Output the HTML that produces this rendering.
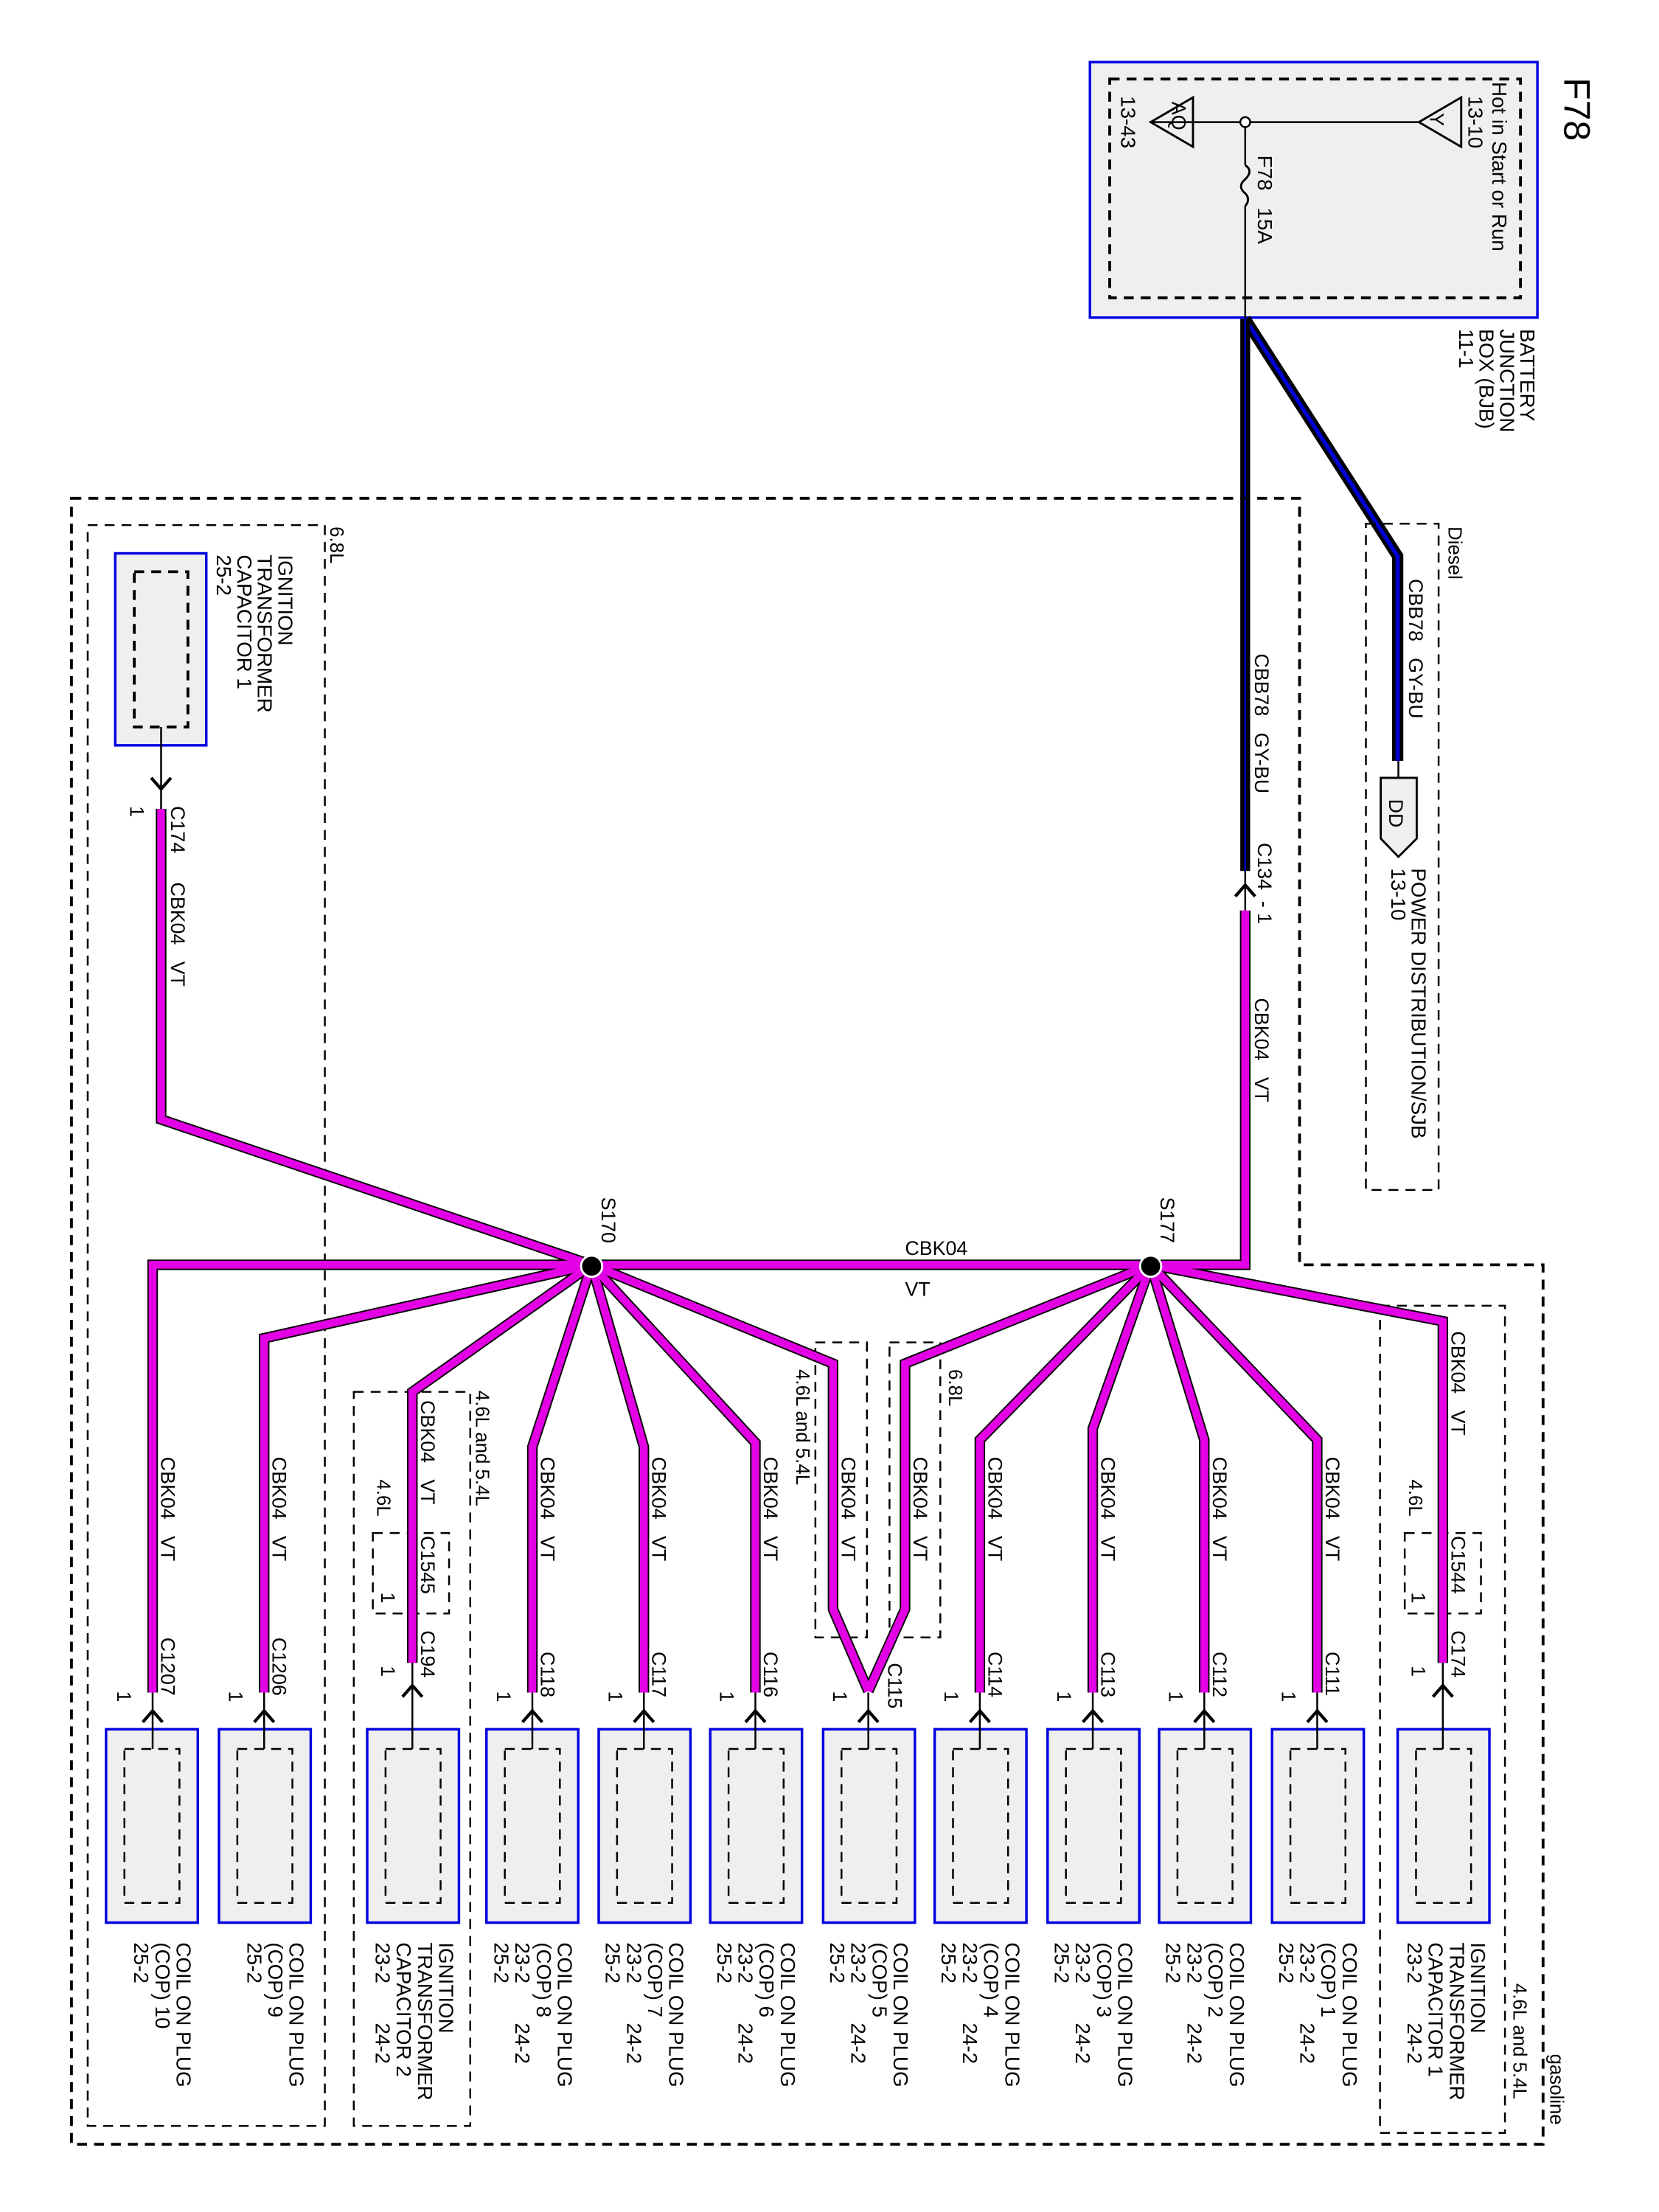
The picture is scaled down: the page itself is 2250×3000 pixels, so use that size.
<!DOCTYPE html>
<html><head><meta charset="utf-8"><style>
html,body{margin:0;padding:0;background:#fff;}
svg{display:block;}
text{font-family:"Liberation Sans",Arial,sans-serif;fill:#000;white-space:pre;}
.w1{fill:none;stroke:#000;stroke-width:7.5;stroke-linejoin:miter;}
.w2{fill:none;stroke:#e400e4;stroke-width:5.5;stroke-linejoin:miter;}
.d{fill:none;stroke:#000;stroke-width:1.3;stroke-dasharray:7,5;}
.db{fill:none;stroke:#000;stroke-width:2;stroke-dasharray:7,5;}
.box{fill:#efefef;stroke:#0000e0;stroke-width:1.8;}
.ln{fill:none;stroke:#000;stroke-width:1.3;}
.ar{fill:none;stroke:#000;stroke-width:2.2;}
</style></head><body>
<svg width="2250" height="3000" viewBox="0 0 1175 1567" xmlns="http://www.w3.org/2000/svg" xml:space="preserve">
<rect x="0" y="0" width="1175" height="1567" fill="#fff"/>

<text font-size="26" transform="translate(1108,55) rotate(90)">F78</text>

<rect class="box" x="772" y="44" width="317" height="181"/>
<rect class="db" x="786" y="56" width="291" height="155"/>
<line class="ln" x1="815" y1="86.5" x2="1005" y2="86.5"/>
<polygon points="815,86.5 845,69 845,104" fill="none" stroke="#000" stroke-width="1.5"/>
<polygon points="1005,86.5 1035,69 1035,104" fill="none" stroke="#000" stroke-width="1.5"/>
<circle cx="882" cy="86.5" r="3.5" fill="#fff" stroke="#000" stroke-width="1.3"/>
<line class="ln" x1="882" y1="90" x2="882" y2="117"/>
<path d="M882,117 q6,4 0,10 q-6,5 0,10 q4,4 0,9" fill="none" stroke="#000" stroke-width="1.5"/>
<line class="ln" x1="882" y1="146" x2="882" y2="226"/>
<text font-size="14" transform="translate(830,72) rotate(90)">AQ</text>
<text font-size="14" transform="translate(1013,80) rotate(90)">Y</text>
<text font-size="14.5" transform="translate(794,68) rotate(90)">13-43</text>
<text font-size="14.5" transform="translate(1040,68) rotate(90)">13-10</text>
<text font-size="14.5" transform="translate(1057,58) rotate(90)">Hot in Start or Run</text>
<text font-size="14.5" transform="translate(891,110) rotate(90)">F78   15A</text>
<text font-size="14.5" transform="translate(1077,233) rotate(90)"><tspan x="0" dy="0">BATTERY</tspan><tspan x="0" dy="14.5">JUNCTION</tspan><tspan x="0" dy="14.5">BOX (BJB)</tspan><tspan x="0" dy="14.5">11-1</tspan></text>

<polyline points="882,226 990,394 990,539" fill="none" stroke="#000" stroke-width="8"/>
<polyline points="882,226 990,394 990,539" fill="none" stroke="#0000d0" stroke-width="3"/>
<line class="ln" x1="990.5" y1="539" x2="990.5" y2="551"/>
<polygon points="978,551 1003.5,551 1003.5,594 990.5,607 978,594" fill="#efefef" stroke="#000" stroke-width="1.5"/>
<text font-size="14" transform="translate(984,566) rotate(90)">DD</text>
<rect class="d" x="967.5" y="371" width="51.5" height="472"/>
<text font-size="13.5" transform="translate(1026,373) rotate(90)">Diesel</text>
<text font-size="14" transform="translate(998,410) rotate(90)">CBB78   GY-BU</text>
<text font-size="14.5" transform="translate(1000,615) rotate(90)"><tspan x="0" dy="0">POWER DISTRIBUTION/SJB</tspan><tspan x="0" dy="14.5">13-10</tspan></text>

<line x1="882" y1="226" x2="882" y2="617" stroke="#000" stroke-width="7"/>
<line x1="882" y1="226" x2="882" y2="617" stroke="#0000d0" stroke-width="1.2"/>
<line class="ln" x1="882" y1="617" x2="882" y2="645"/>
<polyline class="ar" points="875,635 882,627 889,635"/>
<text font-size="14" transform="translate(889,463) rotate(90)">CBB78   GY-BU</text>
<text font-size="14" transform="translate(891,597) rotate(90)">C134  - 1</text>
<text font-size="14" transform="translate(889,707) rotate(90)">CBK04   VT</text>

<polygon class="db" points="50.5,353 920.5,353 920.5,896 1093,896 1093,1519 50.5,1519"/>
<text font-size="13.5" transform="translate(1098,1455) rotate(90)">gasoline</text>
<rect class="d" x="62" y="372" width="168" height="1134"/>
<text font-size="13.5" transform="translate(234,373) rotate(90)">6.8L</text>
<rect class="d" x="250.5" y="986" width="82.5" height="520"/>
<text font-size="13.5" transform="translate(337,985) rotate(90)">4.6L and 5.4L</text>
<rect class="d" x="264" y="1086" width="54" height="57"/>
<text font-size="13.5" transform="translate(267,1048) rotate(90)">4.6L</text>
<rect class="d" x="577.5" y="951" width="36.5" height="209"/>
<text font-size="13.5" transform="translate(564,970) rotate(90)">4.6L and 5.4L</text>
<rect class="d" x="630" y="951" width="36" height="209"/>
<text font-size="13.5" transform="translate(672,970) rotate(90)">6.8L</text>
<rect class="d" x="977.5" y="925" width="88.5" height="586"/>
<text font-size="13.5" transform="translate(1072,1405) rotate(90)">4.6L and 5.4L</text>
<rect class="d" x="995" y="1086" width="54" height="57"/>
<text font-size="13.5" transform="translate(998,1048) rotate(90)">4.6L</text>

<rect class="box" x="81.5" y="392" width="64.5" height="136"/>
<rect class="db" x="95" y="405" width="38" height="110"/>
<line class="ln" x1="114" y1="515" x2="114" y2="573"/>
<polyline class="ar" points="107,551 114,559 121,551"/>
<text font-size="14.5" transform="translate(197,393) rotate(90)"><tspan x="0" dy="0">IGNITION</tspan><tspan x="0" dy="14.5">TRANSFORMER</tspan><tspan x="0" dy="14.5">CAPACITOR 1</tspan><tspan x="0" dy="14.5">25-2</tspan></text>
<text font-size="14" transform="translate(121,571) rotate(90)">C174</text>
<text font-size="14" transform="translate(92,571) rotate(90)">1</text>
<text font-size="14" transform="translate(121,625) rotate(90)">CBK04   VT</text>

<g>
<polyline class="w1" points="114,573 114,793 419,896"/>
<polyline class="w1" points="882,645 882,896 108,896 108,1199"/>
<polyline class="w1" points="419,896 187,948 187,1199"/>
<polyline class="w1" points="419,896 292,986 292,1178"/>
<polyline class="w1" points="419,896 377,1025 377,1199"/>
<polyline class="w1" points="419,896 456,1025 456,1199"/>
<polyline class="w1" points="419,896 535,1022 535,1199"/>
<polyline class="w1" points="419,896 590,966 590,1140 615,1198"/>
<polyline class="w1" points="815,896 641,966 641,1140 615,1198"/>
<polyline class="w1" points="815,896 694,1020 694,1199"/>
<polyline class="w1" points="815,896 774,1012 774,1199"/>
<polyline class="w1" points="815,896 853,1020 853,1199"/>
<polyline class="w1" points="815,896 933,1020 933,1199"/>
<polyline class="w1" points="815,896 1022,936 1022,1178"/>
<polyline class="w2" points="114,573 114,793 419,896"/>
<polyline class="w2" points="882,645 882,896 108,896 108,1199"/>
<polyline class="w2" points="419,896 187,948 187,1199"/>
<polyline class="w2" points="419,896 292,986 292,1178"/>
<polyline class="w2" points="419,896 377,1025 377,1199"/>
<polyline class="w2" points="419,896 456,1025 456,1199"/>
<polyline class="w2" points="419,896 535,1022 535,1199"/>
<polyline class="w2" points="419,896 590,966 590,1140 615,1198"/>
<polyline class="w2" points="815,896 641,966 641,1140 615,1198"/>
<polyline class="w2" points="815,896 694,1020 694,1199"/>
<polyline class="w2" points="815,896 774,1012 774,1199"/>
<polyline class="w2" points="815,896 853,1020 853,1199"/>
<polyline class="w2" points="815,896 933,1020 933,1199"/>
<polyline class="w2" points="815,896 1022,936 1022,1178"/>
</g>
<circle cx="419" cy="897" r="7.5" fill="#000" stroke="#fff" stroke-width="1.5"/>
<circle cx="815" cy="897" r="7.5" fill="#000" stroke="#fff" stroke-width="1.5"/>
<text font-size="14" transform="translate(426,848) rotate(90)">S170</text>
<text font-size="14" transform="translate(822,848) rotate(90)">S177</text>
<text font-size="14" x="641" y="889">CBK04</text>
<text font-size="14" x="641" y="918">VT</text>

<g font-size="14">
<text transform="translate(114,1032) rotate(90)">CBK04   VT</text>
<text transform="translate(193,1032) rotate(90)">CBK04   VT</text>
<text transform="translate(298,992) rotate(90)">CBK04   VT</text>
<text transform="translate(383,1032) rotate(90)">CBK04   VT</text>
<text transform="translate(462,1032) rotate(90)">CBK04   VT</text>
<text transform="translate(541,1032) rotate(90)">CBK04   VT</text>
<text transform="translate(596,1032) rotate(90)">CBK04   VT</text>
<text transform="translate(647,1032) rotate(90)">CBK04   VT</text>
<text transform="translate(700,1032) rotate(90)">CBK04   VT</text>
<text transform="translate(780,1032) rotate(90)">CBK04   VT</text>
<text transform="translate(859,1032) rotate(90)">CBK04   VT</text>
<text transform="translate(939,1032) rotate(90)">CBK04   VT</text>
<text transform="translate(1028,943) rotate(90)">CBK04   VT</text>
<text transform="translate(298,1088) rotate(90)">C1545</text>
<text transform="translate(270,1128) rotate(90)">1</text>
<text transform="translate(1028,1088) rotate(90)">C1544</text>
<text transform="translate(1000,1128) rotate(90)">1</text>
<text transform="translate(298,1155) rotate(90)">C194</text>
<text transform="translate(270,1180) rotate(90)">1</text>
<text transform="translate(1028,1155) rotate(90)">C174</text>
<text transform="translate(1000,1180) rotate(90)">1</text>
<text transform="translate(114,1160) rotate(90)">C1207</text>
<text transform="translate(193,1160) rotate(90)">C1206</text>
<text transform="translate(383,1170) rotate(90)">C118</text>
<text transform="translate(462,1170) rotate(90)">C117</text>
<text transform="translate(541,1170) rotate(90)">C116</text>
<text transform="translate(629,1178) rotate(90)">C115</text>
<text transform="translate(700,1170) rotate(90)">C114</text>
<text transform="translate(780,1170) rotate(90)">C113</text>
<text transform="translate(859,1170) rotate(90)">C112</text>
<text transform="translate(939,1170) rotate(90)">C111</text>
<text transform="translate(83,1198) rotate(90)">1</text>
<text transform="translate(162,1198) rotate(90)">1</text>
<text transform="translate(352,1198) rotate(90)">1</text>
<text transform="translate(431,1198) rotate(90)">1</text>
<text transform="translate(510,1198) rotate(90)">1</text>
<text transform="translate(590,1198) rotate(90)">1</text>
<text transform="translate(669,1198) rotate(90)">1</text>
<text transform="translate(749,1198) rotate(90)">1</text>
<text transform="translate(828,1198) rotate(90)">1</text>
<text transform="translate(908,1198) rotate(90)">1</text>
</g>

<g>
<rect class="box" x="75" y="1225" width="65" height="137"/><rect class="d" x="88" y="1239" width="39" height="109"/>
<rect class="box" x="155" y="1225" width="65" height="137"/><rect class="d" x="168" y="1239" width="39" height="109"/>
<rect class="box" x="260" y="1225" width="65" height="137"/><rect class="d" x="273" y="1239" width="39" height="109"/>
<rect class="box" x="344.5" y="1225" width="65" height="137"/><rect class="d" x="357.5" y="1239" width="39" height="109"/>
<rect class="box" x="424" y="1225" width="65" height="137"/><rect class="d" x="437" y="1239" width="39" height="109"/>
<rect class="box" x="503" y="1225" width="65" height="137"/><rect class="d" x="516" y="1239" width="39" height="109"/>
<rect class="box" x="583" y="1225" width="65" height="137"/><rect class="d" x="596" y="1239" width="39" height="109"/>
<rect class="box" x="662" y="1225" width="65" height="137"/><rect class="d" x="675" y="1239" width="39" height="109"/>
<rect class="box" x="742" y="1225" width="65" height="137"/><rect class="d" x="755" y="1239" width="39" height="109"/>
<rect class="box" x="821" y="1225" width="65" height="137"/><rect class="d" x="834" y="1239" width="39" height="109"/>
<rect class="box" x="901" y="1225" width="65" height="137"/><rect class="d" x="914" y="1239" width="39" height="109"/>
<rect class="box" x="990" y="1225" width="65" height="137"/><rect class="d" x="1003" y="1239" width="39" height="109"/>
</g>
<g>
<line class="ln" x1="108" y1="1199" x2="108" y2="1239"/><polyline class="ar" points="101,1220 108,1212 115,1220"/>
<line class="ln" x1="187" y1="1199" x2="187" y2="1239"/><polyline class="ar" points="180,1220 187,1212 194,1220"/>
<line class="ln" x1="292" y1="1178" x2="292" y2="1239"/><polyline class="ar" points="285,1202 292,1194 299,1202"/>
<line class="ln" x1="377" y1="1199" x2="377" y2="1239"/><polyline class="ar" points="370,1220 377,1212 384,1220"/>
<line class="ln" x1="456" y1="1199" x2="456" y2="1239"/><polyline class="ar" points="449,1220 456,1212 463,1220"/>
<line class="ln" x1="535" y1="1199" x2="535" y2="1239"/><polyline class="ar" points="528,1220 535,1212 542,1220"/>
<line class="ln" x1="615" y1="1199" x2="615" y2="1239"/><polyline class="ar" points="608,1220 615,1212 622,1220"/>
<line class="ln" x1="694" y1="1199" x2="694" y2="1239"/><polyline class="ar" points="687,1220 694,1212 701,1220"/>
<line class="ln" x1="774" y1="1199" x2="774" y2="1239"/><polyline class="ar" points="767,1220 774,1212 781,1220"/>
<line class="ln" x1="853" y1="1199" x2="853" y2="1239"/><polyline class="ar" points="846,1220 853,1212 860,1220"/>
<line class="ln" x1="933" y1="1199" x2="933" y2="1239"/><polyline class="ar" points="926,1220 933,1212 940,1220"/>
<line class="ln" x1="1022" y1="1178" x2="1022" y2="1239"/><polyline class="ar" points="1015,1202 1022,1194 1029,1202"/>
</g>

<g font-size="14.5">
<text transform="translate(125,1376) rotate(90)"><tspan x="0" dy="0">COIL ON PLUG</tspan><tspan x="0" dy="15">(COP) 10</tspan><tspan x="0" dy="15">25-2</tspan></text>
<text transform="translate(205,1376) rotate(90)"><tspan x="0" dy="0">COIL ON PLUG</tspan><tspan x="0" dy="15">(COP) 9</tspan><tspan x="0" dy="15">25-2</tspan></text>
<text transform="translate(311,1376) rotate(90)"><tspan x="0" dy="0">IGNITION</tspan><tspan x="0" dy="15">TRANSFORMER</tspan><tspan x="0" dy="15">CAPACITOR 2</tspan><tspan x="0" dy="15">23-2</tspan><tspan x="57">24-2</tspan></text>
<text transform="translate(395,1376) rotate(90)"><tspan x="0" dy="0">COIL ON PLUG</tspan><tspan x="0" dy="15">(COP) 8</tspan><tspan x="0" dy="15">23-2</tspan><tspan x="57">24-2</tspan><tspan x="0" dy="15">25-2</tspan></text>
<text transform="translate(474,1376) rotate(90)"><tspan x="0" dy="0">COIL ON PLUG</tspan><tspan x="0" dy="15">(COP) 7</tspan><tspan x="0" dy="15">23-2</tspan><tspan x="57">24-2</tspan><tspan x="0" dy="15">25-2</tspan></text>
<text transform="translate(553,1376) rotate(90)"><tspan x="0" dy="0">COIL ON PLUG</tspan><tspan x="0" dy="15">(COP) 6</tspan><tspan x="0" dy="15">23-2</tspan><tspan x="57">24-2</tspan><tspan x="0" dy="15">25-2</tspan></text>
<text transform="translate(633,1376) rotate(90)"><tspan x="0" dy="0">COIL ON PLUG</tspan><tspan x="0" dy="15">(COP) 5</tspan><tspan x="0" dy="15">23-2</tspan><tspan x="57">24-2</tspan><tspan x="0" dy="15">25-2</tspan></text>
<text transform="translate(712,1376) rotate(90)"><tspan x="0" dy="0">COIL ON PLUG</tspan><tspan x="0" dy="15">(COP) 4</tspan><tspan x="0" dy="15">23-2</tspan><tspan x="57">24-2</tspan><tspan x="0" dy="15">25-2</tspan></text>
<text transform="translate(792,1376) rotate(90)"><tspan x="0" dy="0">COIL ON PLUG</tspan><tspan x="0" dy="15">(COP) 3</tspan><tspan x="0" dy="15">23-2</tspan><tspan x="57">24-2</tspan><tspan x="0" dy="15">25-2</tspan></text>
<text transform="translate(871,1376) rotate(90)"><tspan x="0" dy="0">COIL ON PLUG</tspan><tspan x="0" dy="15">(COP) 2</tspan><tspan x="0" dy="15">23-2</tspan><tspan x="57">24-2</tspan><tspan x="0" dy="15">25-2</tspan></text>
<text transform="translate(951,1376) rotate(90)"><tspan x="0" dy="0">COIL ON PLUG</tspan><tspan x="0" dy="15">(COP) 1</tspan><tspan x="0" dy="15">23-2</tspan><tspan x="57">24-2</tspan><tspan x="0" dy="15">25-2</tspan></text>
<text transform="translate(1042,1376) rotate(90)"><tspan x="0" dy="0">IGNITION</tspan><tspan x="0" dy="15">TRANSFORMER</tspan><tspan x="0" dy="15">CAPACITOR 1</tspan><tspan x="0" dy="15">23-2</tspan><tspan x="57">24-2</tspan></text>
</g>
</svg>
</body></html>
